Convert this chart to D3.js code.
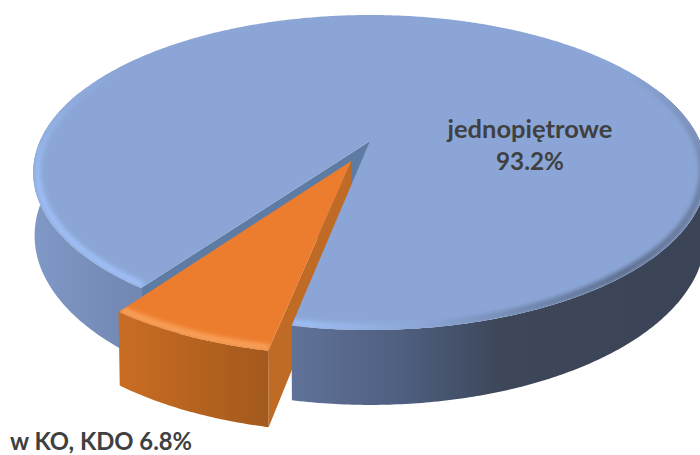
<!DOCTYPE html>
<html>
<head>
<meta charset="utf-8">
<script src="https://cdnjs.cloudflare.com/ajax/libs/d3/7.8.5/d3.min.js"></script>
<style>
  html, body { margin: 0; padding: 0; background: #fff; }
  text { font-family: Lato, "Open Sans", sans-serif; font-weight: 700; fill: #404040; }
</style>
</head>
<body>
<div class="chart"></div>
<script>
const categories = ["jednopiętrowe", "w KO, KDO"]
const values = [93.2, 6.8]
const valueLabels = ["93.2%", "6.8%"]

const width = 700, height = 455
const rad = d3.scaleLinear().domain([0, 180]).range([0, Math.PI])
const startDeg = 215.5
const explode = 0.14
const orangeRadius = 0.975

// perspective projection of the pie disc: (u, v) on the unit disc, z = 0 top, z = 1 bottom
function project(u, v, z) {
    const w = 1 - 0.2 * v + 0.004 * z
    return [370 + 330 * u / w, 141 + (151.2 * v + 61 * z) / w]
}

function polar(angle, r, offset) {
    return [r * Math.sin(angle) + offset[0], -r * Math.cos(angle) + offset[1]]
}

const line = d3.line()

function rimPoints(d, r, z, offset, from, to) {
    const a0 = from === undefined ? d.startAngle : from
    const a1 = to === undefined ? d.endAngle : to
    const n = Math.max(2, Math.ceil(Math.abs(a1 - a0) / 0.01))
    return d3.range(n + 1).map(i => {
        const p = polar(a0 + (a1 - a0) * i / n, r, offset)
        return project(p[0], p[1], z)
    })
}

function sidePath(d, r, offset, from, to) {
    const top = rimPoints(d, r, 0, offset, from, to)
    const bottom = rimPoints(d, r, 1, offset, from, to).reverse()
    return line(top.concat(bottom)) + "Z"
}

function topPath(d, r, offset) {
    const c = project(offset[0], offset[1], 0)
    return line([c].concat(rimPoints(d, r, 0, offset))) + "Z"
}

function wallPath(angle, r, offset) {
    const rim = polar(angle, r, offset)
    return line([
        project(offset[0], offset[1], 0),
        project(rim[0], rim[1], 0),
        project(rim[0], rim[1], 1),
        project(offset[0], offset[1], 1)
    ]) + "Z"
}

const arcs = d3.pie().sort(null)
    .startAngle(rad(startDeg))
    .endAngle(rad(startDeg + 360))(values)
const blue = arcs[0], orange = arcs[1]

const mid = (orange.startAngle + orange.endAngle) / 2
const blueOffset = [0, 0]
const orangeOffset = [explode * Math.sin(mid), -explode * Math.cos(mid)]

const svg = d3.select(".chart").append("svg")
    .attr("width", width)
    .attr("height", height)
    .style("display", "block")

const defs = svg.append("defs")

function sideGradient(id, stops) {
    const g = defs.append("linearGradient")
        .attr("id", id)
        .attr("gradientUnits", "userSpaceOnUse")
        .attr("x1", 0).attr("x2", width).attr("y1", 0).attr("y2", 0)
    stops.forEach(s => g.append("stop").attr("offset", s[0] / width).attr("stop-color", s[1]))
}

sideGradient("blueSide", [[34, "#8098c6"], [150, "#7085b0"], [300, "#5f7197"], [400, "#4f5f80"], [500, "#3d4759"], [700, "#3a4456"]])
sideGradient("orangeSide", [[118, "#c96d24"], [200, "#b5621f"], [270, "#a3591e"]])

defs.append("filter").attr("id", "soft")
    .attr("x", "-5%").attr("y", "-5%").attr("width", "110%").attr("height", "110%")
    .append("feGaussianBlur").attr("stdDeviation", 2.2)

defs.append("clipPath").attr("id", "blueTopClip")
    .append("path").attr("d", topPath(blue, 1, blueOffset))
defs.append("clipPath").attr("id", "orangeTopClip")
    .append("path").attr("d", topPath(orange, orangeRadius, orangeOffset))

// outer wall of the big slice, left part goes under the pulled out slice
svg.append("path")
    .attr("d", sidePath(blue, 1, blueOffset, blue.startAngle, rad(290)))
    .attr("fill", "url(#blueSide)")
svg.append("path")
    .attr("d", wallPath(blue.startAngle, 1, blueOffset))
    .attr("fill", "#5e7ba3")

// pulled out slice, walls first
svg.append("path")
    .attr("d", wallPath(orange.startAngle, orangeRadius, orangeOffset))
    .attr("fill", "#bf6a25")
svg.append("path")
    .attr("d", sidePath(orange, orangeRadius, orangeOffset))
    .attr("fill", "url(#orangeSide)")

svg.append("path")
    .attr("d", sidePath(blue, 1, blueOffset, rad(430), blue.endAngle))
    .attr("fill", "url(#blueSide)")

svg.append("path")
    .attr("d", topPath(blue, 1, blueOffset))
    .attr("fill", "#8ba6d6")

// bevel along the rim, colour follows the position on the page, fades out towards the back
const blueBevel = d3.scaleLinear()
    .domain([34, 150, 300, 420, 520, 620, 700])
    .range(["#a0c0f8", "#a0c0f8", "#a0c0f8", "#8ba6d6", "#6f85ab", "#5a6a88", "#6a7a9c"])
    .clamp(true)
const bevelFade = d3.scaleLinear().domain([70, 190]).range([0, 1]).clamp(true)

function drawBevel(parent, points, colour, widthPx) {
    d3.pairs(points).forEach(pair => {
        parent.append("path")
            .attr("d", line(pair))
            .attr("fill", "none")
            .attr("stroke", colour(pair[0][0]))
            .attr("stroke-opacity", bevelFade(pair[0][1]))
            .attr("stroke-width", widthPx)
    })
}

const blueBevelGroup = svg.append("g")
    .attr("clip-path", "url(#blueTopClip)")
    .append("g")
    .attr("filter", "url(#soft)")
drawBevel(blueBevelGroup, rimPoints(blue, 0.988, 0, blueOffset, rad(310), rad(215.5 + 0.3)), blueBevel, 7)
drawBevel(blueBevelGroup, rimPoints(blue, 0.988, 0, blueOffset, blue.endAngle, rad(420)), blueBevel, 7)

svg.append("path")
    .attr("d", topPath(orange, orangeRadius, orangeOffset))
    .attr("fill", "#ed7d2e")

const orangeBevelGroup = svg.append("g")
    .attr("clip-path", "url(#orangeTopClip)")
    .append("g")
    .attr("filter", "url(#soft)")
drawBevel(orangeBevelGroup, rimPoints(orange, orangeRadius - 0.012, 0, orangeOffset), () => "#f8a25c", 7)

svg.append("text")
    .attr("x", 530).attr("y", 138)
    .attr("text-anchor", "middle")
    .attr("font-size", 25.5)
    .text(categories[0])
svg.append("text")
    .attr("x", 530).attr("y", 170)
    .attr("text-anchor", "middle")
    .attr("font-size", 24.3)
    .text(valueLabels[0])
svg.append("text")
    .attr("x", 10).attr("y", 450)
    .attr("font-size", 23.8)
    .text(categories[1] + " " + valueLabels[1])
</script>
</body>
</html>
